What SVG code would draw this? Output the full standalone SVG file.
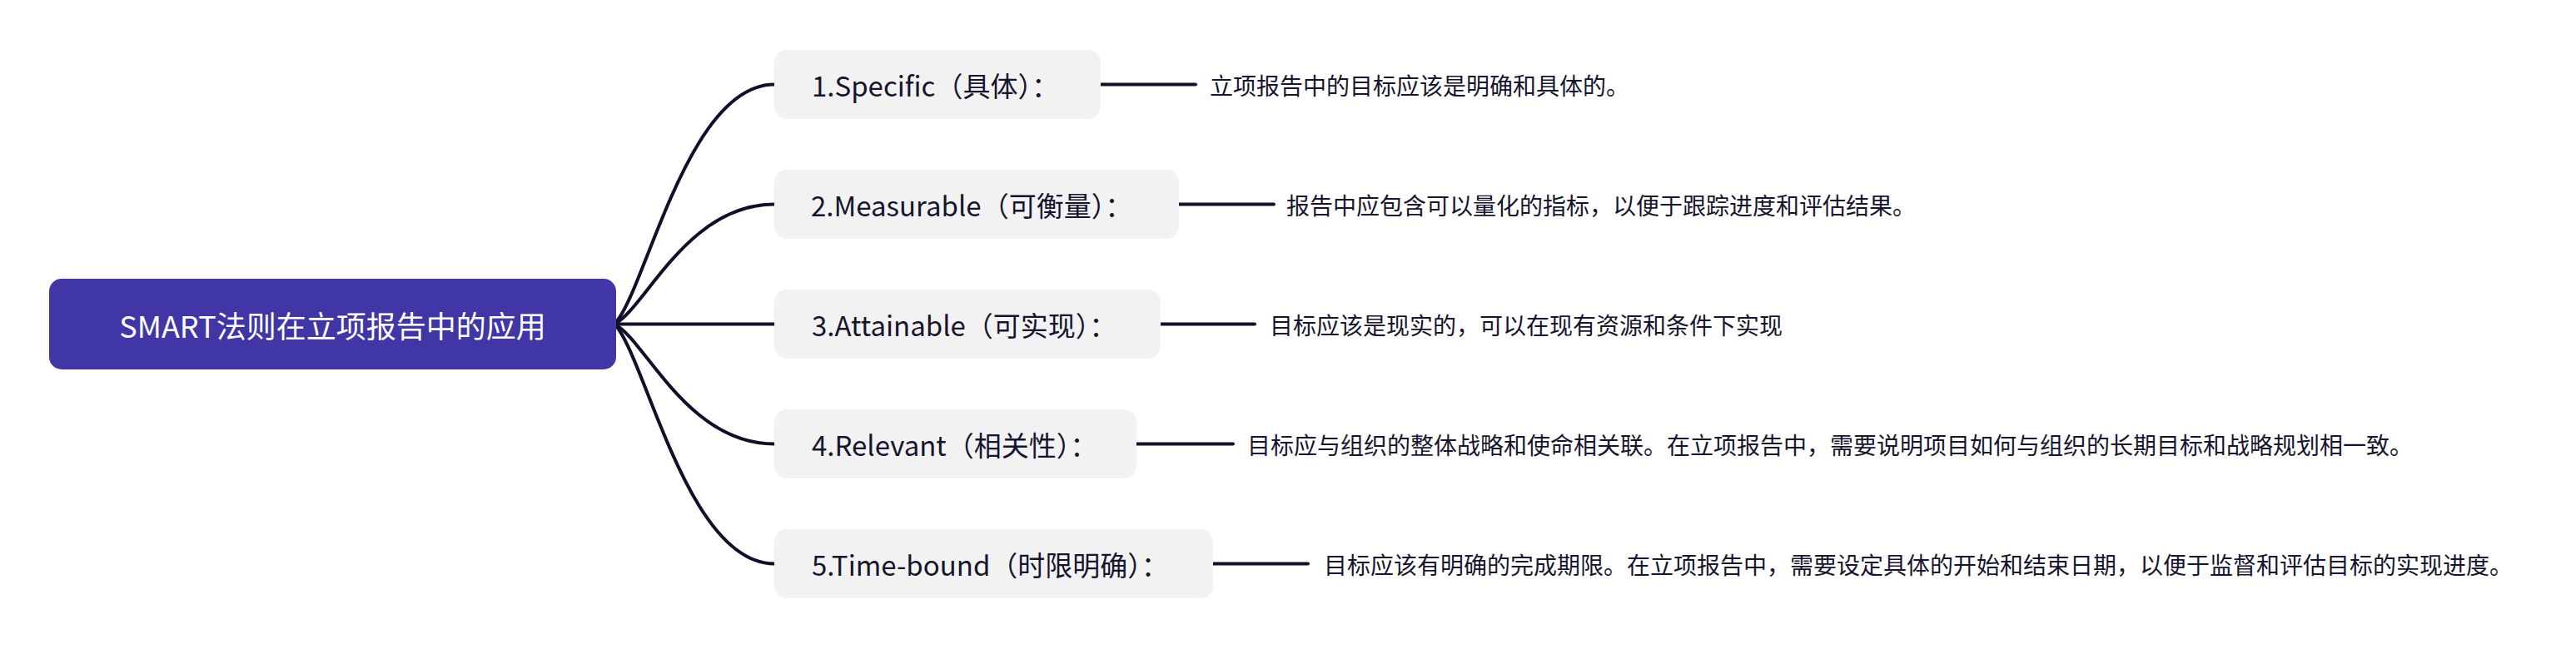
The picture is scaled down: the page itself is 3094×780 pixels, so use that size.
<svg xmlns="http://www.w3.org/2000/svg" width="3094" height="780" viewBox="0 0 3094 780">
<defs>
<style>
.root-box{fill:#4036A6;}
.root-text{fill:#FFFFFF;font-family:"Noto Sans CJK SC","Microsoft YaHei",sans-serif;font-size:36px;}
.node-box{fill:#F2F2F2;}
.node-text{fill:#16142E;font-family:"Noto Sans CJK SC","Microsoft YaHei",sans-serif;font-size:33px;}
.desc-text{fill:#16142E;font-family:"Noto Sans CJK SC","Microsoft YaHei",sans-serif;font-size:28px;}
.conn{fill:none;stroke:#120F2A;stroke-width:4;stroke-linecap:round;}
</style>
</defs>
<rect width="3094" height="780" fill="#FFFFFF"/>
<g id="connectors">
<path class="conn" d="M 738 389.5 C 775 352, 825 101.5, 930 101.5"/>
<path class="conn" d="M 738 389.5 C 775 371, 825 245.5, 930 245.5"/>
<path class="conn" d="M 738 389.5 L 930 389.5"/>
<path class="conn" d="M 738 389.5 C 775 408, 825 533.5, 930 533.5"/>
<path class="conn" d="M 738 389.5 C 775 427, 825 677.5, 930 677.5"/>
<path class="conn" d="M 1322 101.5 L 1436 101.5"/>
<path class="conn" d="M 1416 245.5 L 1530 245.5"/>
<path class="conn" d="M 1394 389.5 L 1507 389.5"/>
<path class="conn" d="M 1365 533.5 L 1481 533.5"/>
<path class="conn" d="M 1457 677.5 L 1571 677.5"/>
</g>
<g id="root">
<rect class="root-box" x="59" y="335" width="681" height="109" rx="15"/>
<text class="root-text" x="399.5" y="389.5" text-anchor="middle" dominant-baseline="central">SMART法则在立项报告中的应用</text>
</g>
<g id="node1">
<rect class="node-box" x="930" y="60" width="392" height="83" rx="15"/>
<text class="node-text" x="975" y="101.5" dominant-baseline="central">1.Specific（具体）：</text>
</g>
<g id="node2">
<rect class="node-box" x="930" y="204" width="486" height="83" rx="15"/>
<text class="node-text" x="974" y="245.5" dominant-baseline="central">2.Measurable（可衡量）：</text>
</g>
<g id="node3">
<rect class="node-box" x="930" y="348" width="464" height="83" rx="15"/>
<text class="node-text" x="975" y="389.5" dominant-baseline="central">3.Attainable（可实现）：</text>
</g>
<g id="node4">
<rect class="node-box" x="930" y="492" width="435" height="83" rx="15"/>
<text class="node-text" x="975" y="533.5" dominant-baseline="central">4.Relevant（相关性）：</text>
</g>
<g id="node5">
<rect class="node-box" x="930" y="636" width="527" height="83" rx="15"/>
<text class="node-text" x="975" y="677.5" dominant-baseline="central">5.Time-bound（时限明确）：</text>
</g>
<g id="desc1">
<text class="desc-text" x="1453" y="101.5" dominant-baseline="central">立项报告中的目标应该是明确和具体的。</text>
</g>
<g id="desc2">
<text class="desc-text" x="1545" y="245.5" dominant-baseline="central">报告中应包含可以量化的指标，以便于跟踪进度和评估结果。</text>
</g>
<g id="desc3">
<text class="desc-text" x="1525" y="389.5" dominant-baseline="central">目标应该是现实的，可以在现有资源和条件下实现</text>
</g>
<g id="desc4">
<text class="desc-text" x="1498" y="533.5" dominant-baseline="central">目标应与组织的整体战略和使命相关联。在立项报告中，需要说明项目如何与组织的长期目标和战略规划相一致。</text>
</g>
<g id="desc5">
<text class="desc-text" x="1590" y="677.5" dominant-baseline="central">目标应该有明确的完成期限。在立项报告中，需要设定具体的开始和结束日期，以便于监督和评估目标的实现进度。</text>
</g>
</svg>
